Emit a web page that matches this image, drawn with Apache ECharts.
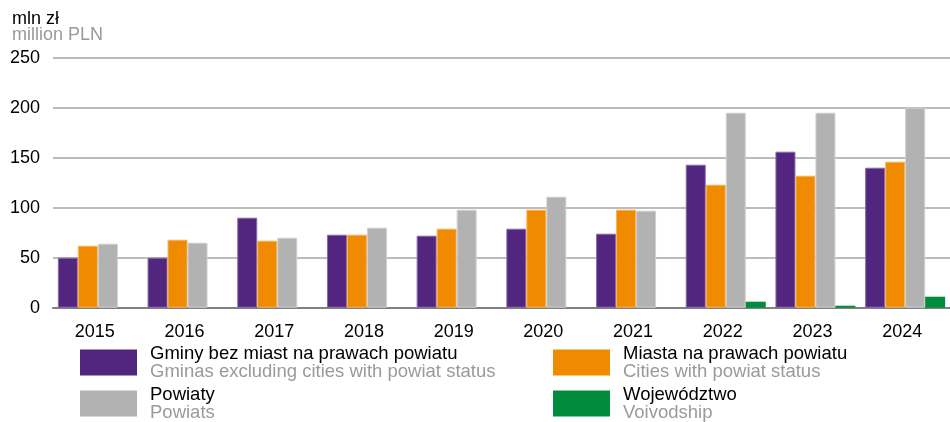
<!DOCTYPE html>
<html>
<head>
<meta charset="utf-8">
<script src="https://cdn.jsdelivr.net/npm/echarts@6/dist/echarts.min.js"></script>
<style>
  html, body { margin: 0; padding: 0; background: #fff; }
  #chart { width: 950px; height: 422px; }
</style>
</head>
<body>
<div id="chart"></div>
<script>
  // dane (mln zł)
  var years = ['2015', '2016', '2017', '2018', '2019', '2020', '2021', '2022', '2023', '2024'];
  var gminy = [50, 50, 90, 73, 72, 79, 74, 143, 156, 140];
  var miasta = [62, 68, 67, 73, 79, 98, 98, 123, 132, 146];
  var powiaty = [64, 65, 70, 80, 98, 111, 97, 195, 195, 200];
  var wojewodztwo = [0, 0, 0, 0, 0, 0, 0, 6, 2, 11];

  var names = {
    gminy: ['Gminy bez miast na prawach powiatu', 'Gminas excluding cities with powiat status'],
    miasta: ['Miasta na prawach powiatu', 'Cities with powiat status'],
    powiaty: ['Powiaty', 'Powiats'],
    woj: ['Województwo', 'Voivodship']
  };
  var colors = {gminy: '#52267f', miasta: '#f08a00', powiaty: '#b2b2b2', woj: '#008c3c'};
  var borders = {gminy: '#8b6aab', miasta: '#f6b45a', powiaty: '#d0d0d0', woj: '#008c3c'};
  var font = 'Liberation Sans, Arial, sans-serif';

  var chart = echarts.init(document.getElementById('chart'));

  function makeSeries(key, data) {
    return {
      name: names[key][0],
      type: 'bar',
      data: data,
      barWidth: 20,
      barGap: '0%',
      itemStyle: {color: colors[key], borderColor: borders[key], borderWidth: key === 'woj' ? 0 : 1},
      emphasis: {disabled: true}
    };
  }

  var legendText = {
    fontFamily: font,
    padding: [0, 0, 0, 8],
    rich: {
      a: {color: '#000', fontSize: 18.5, lineHeight: 18, fontFamily: font},
      b: {color: '#9a9a9a', fontSize: 18.5, lineHeight: 18, fontFamily: font}
    }
  };
  function legendFmt(name) {
    for (var k in names) {
      if (names[k][0] === name) return '{a|' + names[k][0] + '}\n{b|' + names[k][1] + '}';
    }
    return name;
  }
  // jedna legenda na kazdy element, zeby nie zawijalo
  function makeLegend(key, left, top) {
    return {
      data: [names[key][0]],
      left: left, top: top, padding: 0,
      itemWidth: 57, itemHeight: 26, icon: 'rect',
      itemStyle: {borderWidth: 0},
      selectedMode: false,
      formatter: legendFmt, textStyle: legendText
    };
  }

  var option = {
    animation: false,
    textStyle: {fontFamily: font},
    graphic: [
      {type: 'text', left: 12, top: 10, style: {text: 'mln zł', fontSize: 18, fill: '#000', fontFamily: font}},
      {type: 'text', left: 12, top: 26, style: {text: 'million PLN', fontSize: 18, fill: '#9a9a9a', fontFamily: font}}
    ],
    legend: [
      makeLegend('gminy', 80, 344),
      makeLegend('powiaty', 80, 385),
      makeLegend('miasta', 553, 344),
      makeLegend('woj', 553, 385)
    ],
    grid: {left: 53, right: -9, top: 57.7, bottom: 114.3},
    xAxis: {
      type: 'category',
      data: years,
      axisTick: {show: false},
      axisLine: {lineStyle: {color: '#808080', width: 2}},
      axisLabel: {color: '#000', fontSize: 18, margin: 15, padding: [0, 6, 0, 0]}
    },
    yAxis: {
      type: 'value',
      min: 0, max: 250, interval: 50,
      axisLine: {show: false},
      axisTick: {show: false},
      axisLabel: {color: '#000', fontSize: 18, margin: 13},
      splitLine: {lineStyle: {color: '#a6a6a6', width: 1.5}}
    },
    series: [
      makeSeries('gminy', gminy),
      makeSeries('miasta', miasta),
      makeSeries('powiaty', powiaty),
      makeSeries('woj', wojewodztwo)
    ]
  };

  chart.setOption(option);
</script>
</body>
</html>
